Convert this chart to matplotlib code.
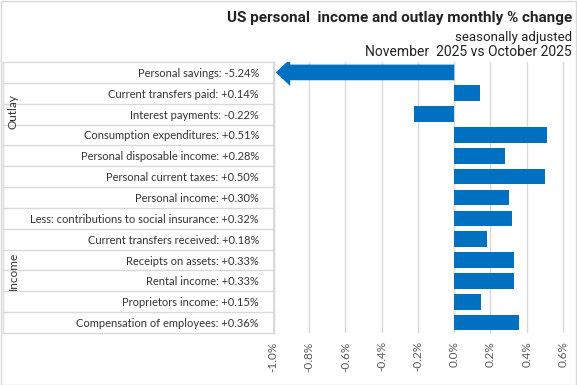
import matplotlib.pyplot as plt
from matplotlib.transforms import blended_transform_factory
from matplotlib.patches import Rectangle

# rows top to bottom
categories = ['Personal savings', 'Current transfers paid', 'Interest payments',
              'Consumption expenditures', 'Personal disposable income',
              'Personal current taxes', 'Personal income',
              'Less: contributions to social insurance', 'Current transfers received',
              'Receipts on assets', 'Rental income', 'Proprietors income',
              'Compensation of employees']
values = [-5.24, 0.14, -0.22, 0.51, 0.28, 0.50, 0.30, 0.32, 0.18, 0.33, 0.33, 0.15, 0.36]
groups = ['Outlay', 'Income']
group_sizes = [4, 9]
xticks = [-1.0, -0.8, -0.6, -0.4, -0.2, 0.0, 0.2, 0.4, 0.6]

BLUE = '#0070C0'
GRID = '#D9D9D9'
W, H = 577, 385

plt.rcParams['font.family'] = ['Lato', 'DejaVu Sans']

fig = plt.figure(figsize=(W / 100, H / 100), dpi=100)
fig.patch.set_facecolor('white')
fig.add_artist(Rectangle((0.5 / W, 0.5 / H), 1 - 1.5 / W, 1 - 1.5 / H, transform=fig.transFigure,
                         fill=False, edgecolor=GRID, lw=1))

ax = fig.add_axes([273 / W, 1 - 333 / H, 299 / W, 271 / H])
xmin, xmax = -1.0, 0.65
ax.set_xlim(xmin, xmax)
ax.set_ylim(len(categories) - 0.5, -0.5)

ypos = list(range(len(categories)))
for y, v in zip(ypos, values):
    if v < xmin:
        # value off the scale: draw as an arrow pointing left
        ax.arrow(0, y, xmin + 0.015, 0, width=0.75, head_width=1.3, head_length=0.08,
                 length_includes_head=True, color=BLUE, lw=0, zorder=3)
    else:
        ax.barh(y, v, height=0.75, color=BLUE, zorder=3)

labels = [f'{c}: {v:+.2f}%' for c, v in zip(categories, values)]
ax.set_yticks(ypos)
ax.set_yticklabels(labels, fontsize=8, color='#333333')
ax.tick_params(axis='y', length=0, pad=10)

ax.set_xticks(xticks)
ax.set_xticklabels([f'{t:.1f}%' for t in xticks], rotation=90, fontsize=8.5, color='#595959')
ax.tick_params(axis='x', length=0, pad=6)
ax.xaxis.grid(True, color=GRID, lw=1)
ax.set_axisbelow(True)
for s in ax.spines.values():
    s.set_visible(False)

# category table on the left
tr = blended_transform_factory(fig.transFigure, ax.transData)
x0, x1 = 3 / W, 274 / W
for i in range(len(categories) + 1):
    ax.plot([x0, x1], [i - 0.5, i - 0.5], transform=tr, color=GRID, lw=1, clip_on=False)
for x in (x0, x1):
    ax.plot([x, x], [-0.5, len(categories) - 0.5], transform=tr, color=GRID, lw=1, clip_on=False)

group_y = [1.9, 9.5]
for g, n, gy in zip(groups, group_sizes, group_y):
    ax.text(13 / W, gy, g, transform=tr, rotation=90, ha='center', va='center',
            fontsize=8.5, color='#333333')

fig.text(572 / W, 1 - 18 / H, 'US personal  income and outlay monthly % change', ha='right',
         va='center', fontsize=11, fontweight='bold', family='Roboto', color='#222222')
fig.text(572 / W, 1 - 37 / H, 'seasonally adjusted', ha='right', va='center',
         fontsize=9.5, family='Roboto', color='#222222')
fig.text(572 / W, 1 - 52 / H, 'November  2025 vs October 2025', ha='right', va='center',
         fontsize=10, family='Roboto', color='#222222')

fig.savefig('out.png', dpi=100)
